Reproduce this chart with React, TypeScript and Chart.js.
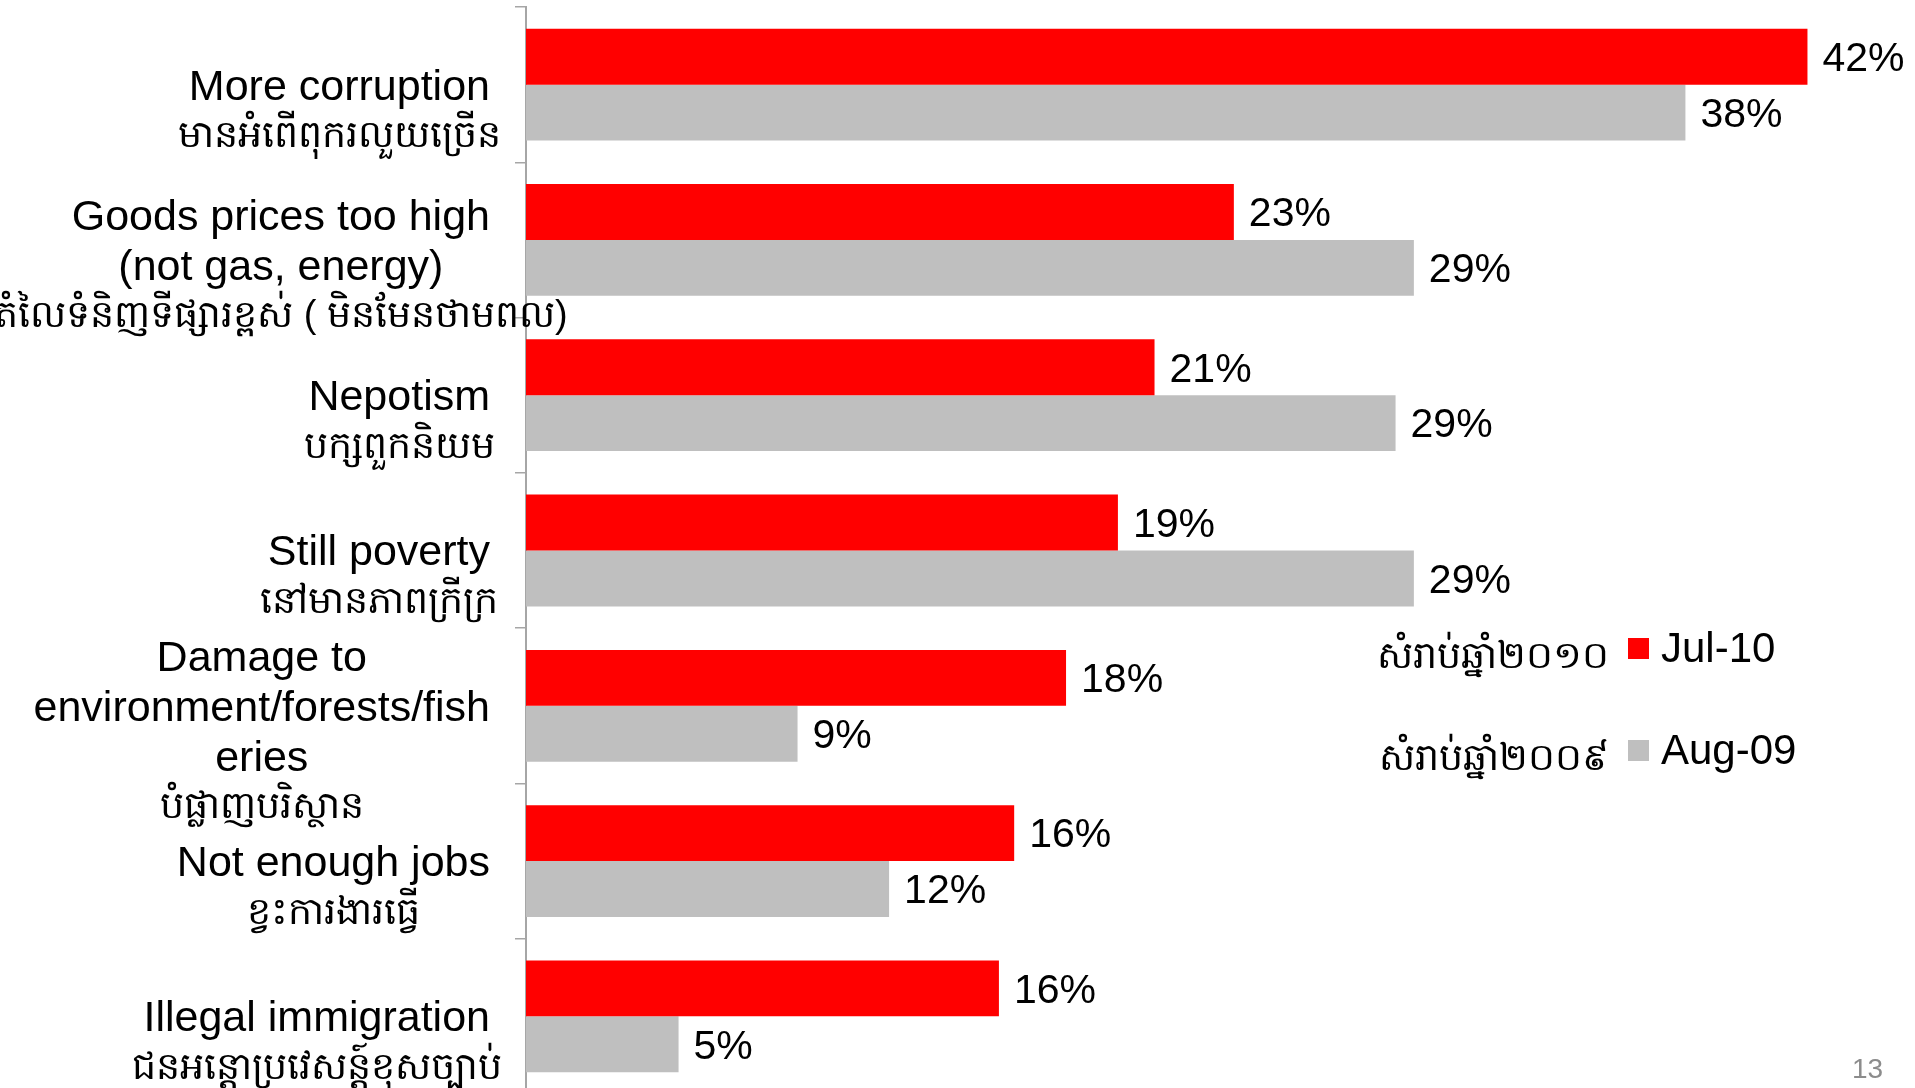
import React, { useEffect, useRef } from "react";
import { Chart, registerables } from "chart.js";

Chart.register(...registerables);

// ---- data ----
const categoriesEn: string[][] = [
  ["More corruption"],
  ["Goods prices too high", "(not gas, energy)"],
  ["Nepotism"],
  ["Still poverty"],
  ["Damage to", "environment/forests/fish", "eries"],
  ["Not enough jobs"],
  ["Illegal immigration"],
];
const categoriesKm: string[] = [
  "មានអំពើពុករលួយច្រើន",
  "តំលៃទំនិញទីផ្សារខ្ពស់ ( មិនមែនថាមពល)",
  "បក្សពួកនិយម",
  "នៅមានភាពក្រីក្រ",
  "បំផ្លាញបរិស្ថាន",
  "ខ្វះការងារធ្វើ",
  "ជនអន្តោប្រវេសន្ត៍ខុសច្បាប់",
];
// bar lengths (percent)
const jul10: number[] = [42.0, 23.2, 20.6, 19.4, 17.7, 16.0, 15.5];
const aug09: number[] = [38.0, 29.1, 28.5, 29.1, 8.9, 11.9, 5.0];
// value labels as printed
const jul10Labels: string[] = ["42%", "23%", "21%", "19%", "18%", "16%", "16%"];
const aug09Labels: string[] = ["38%", "29%", "29%", "29%", "9%", "12%", "5%"];
const seriesNames: string[] = ["Jul-10", "Aug-09"];
const seriesNamesKm: string[] = ["សំរាប់ឆ្នាំ២០១០", "សំរាប់ឆ្នាំ២០០៩"];
const seriesColors: string[] = ["#FF0000", "#BFBFBF"];
const pageNumber = "13";

const W = 1915;
const H = 1094;
const FONT = '"Liberation Sans", Arial, sans-serif';

export default function App() {
  const ref = useRef<HTMLCanvasElement>(null);

  useEffect(() => {
    const canvas = ref.current;
    if (!canvas) return;
    const valueLabels = [jul10Labels, aug09Labels];

    const labelsPlugin = {
      id: "customLabels",
      afterDraw(chart: any) {
        const ctx: CanvasRenderingContext2D = chart.ctx;
        const yScale = chart.scales.y;
        const area = chart.chartArea;
        ctx.save();
        ctx.fillStyle = "#000000";
        ctx.textBaseline = "middle";
        ctx.textAlign = "center";
        const lh = 50;
        categoriesEn.forEach((lines, i) => {
          ctx.font = `43px ${FONT}`;
          const cy = yScale.getPixelForValue(i);
          const maxW = Math.max(...lines.map((l) => ctx.measureText(l).width));
          const cx = area.left - 36 - maxW / 2;
          const y0 = cy - ((lines.length - 1) * lh) / 2;
          lines.forEach((l, j) => ctx.fillText(l, cx, y0 + j * lh + 3));
          const lastY = y0 + (lines.length - 1) * lh;
          ctx.font = `38px ${FONT}`;
          ctx.fillText(categoriesKm[i], cx, lastY + 52);
        });

        // data labels
        ctx.font = `41px ${FONT}`;
        ctx.textAlign = "left";
        chart.data.datasets.forEach((ds: any, di: number) => {
          const meta = chart.getDatasetMeta(di);
          meta.data.forEach((el: any, k: number) => {
            ctx.fillText(valueLabels[di][k], el.x + 15, el.y + 3);
          });
        });

        // legend
        const legendY = [648, 750];
        seriesNames.forEach((name, k) => {
          const y = legendY[k];
          ctx.fillStyle = seriesColors[k];
          ctx.fillRect(1628, y - 10, 21, 21);
          ctx.fillStyle = "#000000";
          ctx.font = `42px ${FONT}`;
          ctx.textAlign = "left";
          ctx.fillText(name, 1661, y + 2);
          ctx.font = `38px ${FONT}`;
          ctx.textAlign = "right";
          ctx.fillText(seriesNamesKm[k], 1609, y + 10);
        });

        // page number
        ctx.fillStyle = "#8C8C8C";
        ctx.font = `28px ${FONT}`;
        ctx.textAlign = "left";
        ctx.fillText(pageNumber, 1852, 1070);
        ctx.restore();
      },
    };

    const chart = new Chart(canvas, {
      type: "bar",
      data: {
        labels: categoriesEn.map((l) => l.join(" ")),
        datasets: [
          {
            label: seriesNames[0],
            data: jul10,
            backgroundColor: seriesColors[0],
            borderWidth: 0,
            categoryPercentage: 0.72,
            barPercentage: 1.0,
          },
          {
            label: seriesNames[1],
            data: aug09,
            backgroundColor: seriesColors[1],
            borderWidth: 0,
            categoryPercentage: 0.72,
            barPercentage: 1.0,
          },
        ],
      },
      options: {
        indexAxis: "y",
        responsive: false,
        animation: false,
        devicePixelRatio: 1,
        layout: { padding: { left: 0, right: 16, top: 7, bottom: 0 } },
        plugins: {
          legend: { display: false },
          tooltip: { enabled: false },
        },
        scales: {
          x: { min: 0, max: 45, display: false },
          y: {
            ticks: { display: false },
            grid: {
              drawOnChartArea: false,
              drawTicks: true,
              tickLength: 11,
              color: "#A6A6A6",
              lineWidth: 1.5,
              offset: true,
            },
            border: { display: true, color: "#A6A6A6", width: 2 },
            afterFit: (scale: any) => {
              scale.width = 526;
            },
          },
        },
      },
      plugins: [labelsPlugin],
    } as any);

    return () => chart.destroy();
  }, []);

  return (
    <div
      style={{
        position: "fixed",
        left: 0,
        top: 0,
        width: W,
        height: 1088,
        overflow: "hidden",
        background: "#ffffff",
      }}
    >
      <canvas ref={ref} width={W} height={H} style={{ display: "block", width: W, height: H }} />
    </div>
  );
}
